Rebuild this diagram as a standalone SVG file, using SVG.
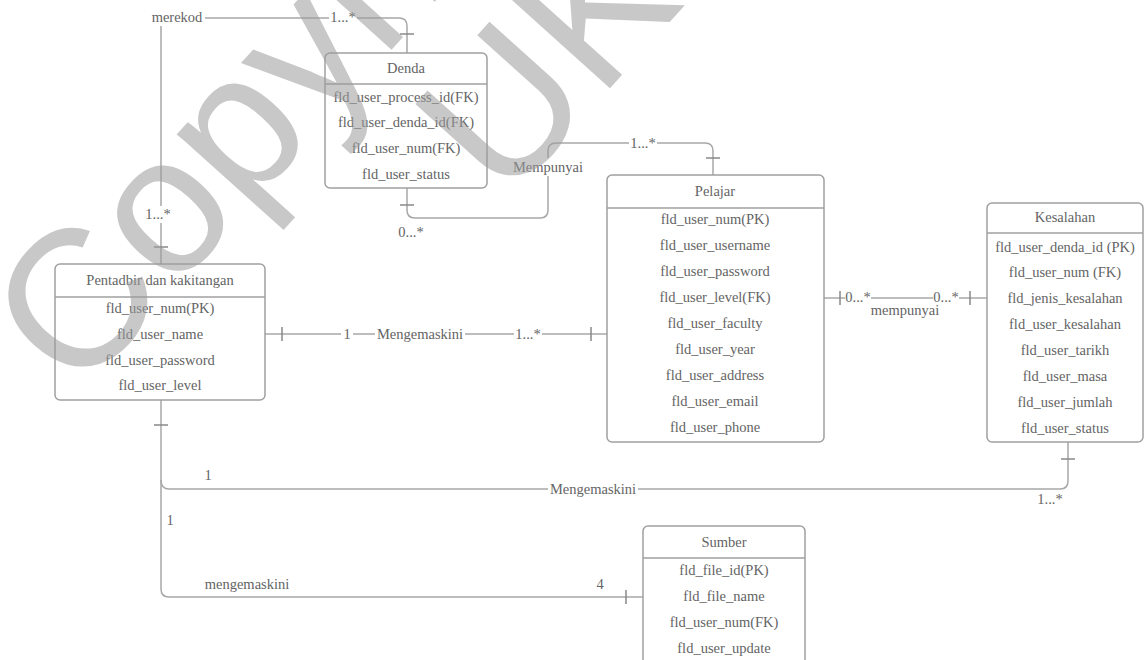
<svg xmlns="http://www.w3.org/2000/svg" width="1145" height="660" viewBox="0 0 1145 660" font-family="'Liberation Serif', 'Times New Roman', serif">
<style>
text{font-family:"Liberation Serif","Times New Roman",serif;font-size:14.5px;fill:#646464;text-anchor:middle;dominant-baseline:central}
.box{fill:none;stroke:#a0a0a0;stroke-width:1.5}
.div{stroke:#a0a0a0;stroke-width:1.5}
.ln{fill:none;stroke:#a8a8a8;stroke-width:1.5}
.cb{stroke:#888;stroke-width:1.5}
.bg{fill:#fff}
.wm{font-family:"Liberation Sans",Arial,sans-serif;font-size:195px;fill:#9c9c9c;opacity:0.55;text-anchor:start;dominant-baseline:auto}
</style>
<rect width="1145" height="660" fill="#fff"/>
<g id="connectors">
  <path class="ln" d="M407 53 V26 Q407 18 399 18 H161 V264"/>
  <line class="cb" x1="400" y1="34" x2="414" y2="34"/>
  <line class="cb" x1="154" y1="247" x2="168" y2="247"/>
  <rect class="bg" x="149" y="9" width="56" height="17"/>
  <text x="177" y="17">merekod</text>
  <rect class="bg" x="329" y="9" width="28" height="17"/>
  <text x="343" y="17">1...*</text>
  <rect class="bg" x="144" y="206" width="28" height="17"/>
  <text x="158" y="214">1...*</text>

  <path class="ln" d="M407 188 V210 Q407 218 415 218 H540 Q548 218 548 210 V151 Q548 143 556 143 H705 Q713 143 713 151 V175"/>
  <line class="cb" x1="400" y1="205" x2="414" y2="205"/>
  <line class="cb" x1="706" y1="158" x2="720" y2="158"/>
  <rect class="bg" x="511" y="158" width="74" height="18"/>
  <text x="548" y="167">Mempunyai</text>
  <rect class="bg" x="629" y="135" width="28" height="17"/>
  <text x="643" y="143">1...*</text>
  <text x="411" y="232">0...*</text>

  <path class="ln" d="M265 334 H607"/>
  <line class="cb" x1="282" y1="327" x2="282" y2="341"/>
  <line class="cb" x1="591" y1="327" x2="591" y2="341"/>
  <rect class="bg" x="341" y="326" width="12" height="17"/>
  <text x="347" y="334">1</text>
  <rect class="bg" x="375" y="326" width="90" height="17"/>
  <text x="420" y="334">Mengemaskini</text>
  <rect class="bg" x="514" y="326" width="28" height="17"/>
  <text x="528" y="334">1...*</text>

  <path class="ln" d="M824 298 H987"/>
  <line class="cb" x1="840" y1="291" x2="840" y2="305"/>
  <line class="cb" x1="970" y1="291" x2="970" y2="305"/>
  <rect class="bg" x="845" y="290" width="26" height="15"/>
  <text x="858" y="297">0...*</text>
  <rect class="bg" x="933" y="290" width="26" height="15"/>
  <text x="946" y="297">0...*</text>
  <text x="905" y="310">mempunyai</text>

  <path class="ln" d="M161 400 V589 Q161 597 169 597 H643"/>
  <path class="ln" d="M161 480 Q161 489 169 489 H1060 Q1068 489 1068 481 V442"/>
  <line class="cb" x1="154" y1="425" x2="168" y2="425"/>
  <line class="cb" x1="1061" y1="459" x2="1075" y2="459"/>
  <line class="cb" x1="626" y1="590" x2="626" y2="604"/>
  <text x="208" y="475">1</text>
  <rect class="bg" x="548" y="481" width="90" height="17"/>
  <text x="593" y="489">Mengemaskini</text>
  <text x="1050" y="499">1...*</text>
  <text x="170" y="520">1</text>
  <text x="247" y="584">mengemaskini</text>
  <text x="600" y="584">4</text>
</g>
<g id="denda">
  <rect class="box" x="325" y="53" width="162" height="135" rx="5"/>
  <line class="div" x1="325" y1="84" x2="487" y2="84"/>
  <text x="406" y="68">Denda</text>
  <text x="406" y="97">fld_user_process_id(FK)</text>
  <text x="406" y="122">fld_user_denda_id(FK)</text>
  <text x="406" y="148">fld_user_num(FK)</text>
  <text x="406" y="174">fld_user_status</text>
</g>
<g id="pelajar">
  <rect class="box" x="607" y="175" width="217" height="267" rx="5"/>
  <line class="div" x1="607" y1="208" x2="824" y2="208"/>
  <text x="715" y="191">Pelajar</text>
  <text x="715" y="219">fld_user_num(PK)</text>
  <text x="715" y="245">fld_user_username</text>
  <text x="715" y="271">fld_user_password</text>
  <text x="715" y="297">fld_user_level(FK)</text>
  <text x="715" y="323">fld_user_faculty</text>
  <text x="715" y="349">fld_user_year</text>
  <text x="715" y="375">fld_user_address</text>
  <text x="715" y="401">fld_user_email</text>
  <text x="715" y="427">fld_user_phone</text>
</g>
<g id="kesalahan">
  <rect class="box" x="987" y="203" width="156" height="239" rx="5"/>
  <line class="div" x1="987" y1="233" x2="1143" y2="233"/>
  <text x="1065" y="217">Kesalahan</text>
  <text x="1065" y="247">fld_user_denda_id (PK)</text>
  <text x="1065" y="272">fld_user_num (FK)</text>
  <text x="1065" y="298">fld_jenis_kesalahan</text>
  <text x="1065" y="324">fld_user_kesalahan</text>
  <text x="1065" y="350">fld_user_tarikh</text>
  <text x="1065" y="376">fld_user_masa</text>
  <text x="1065" y="402">fld_user_jumlah</text>
  <text x="1065" y="428">fld_user_status</text>
</g>
<g id="pentadbir">
  <rect class="box" x="55" y="264" width="210" height="136" rx="5"/>
  <line class="div" x1="55" y1="297" x2="265" y2="297"/>
  <text x="160" y="280">Pentadbir dan kakitangan</text>
  <text x="160" y="308">fld_user_num(PK)</text>
  <text x="160" y="334">fld_user_name</text>
  <text x="160" y="360">fld_user_password</text>
  <text x="160" y="385">fld_user_level</text>
</g>
<g id="sumber">
  <rect class="box" x="643" y="526" width="162" height="150" rx="5"/>
  <line class="div" x1="643" y1="558" x2="805" y2="558"/>
  <text x="724" y="542">Sumber</text>
  <text x="724" y="570">fld_file_id(PK)</text>
  <text x="724" y="596">fld_file_name</text>
  <text x="724" y="622">fld_user_num(FK)</text>
  <text x="724" y="648">fld_user_update</text>
</g>
<g id="watermark">
  <text class="wm" transform="translate(78 398) rotate(-48)">Copyright</text>
  <text class="wm" transform="translate(505 205) rotate(-48)">UKM</text>
</g>
</svg>
